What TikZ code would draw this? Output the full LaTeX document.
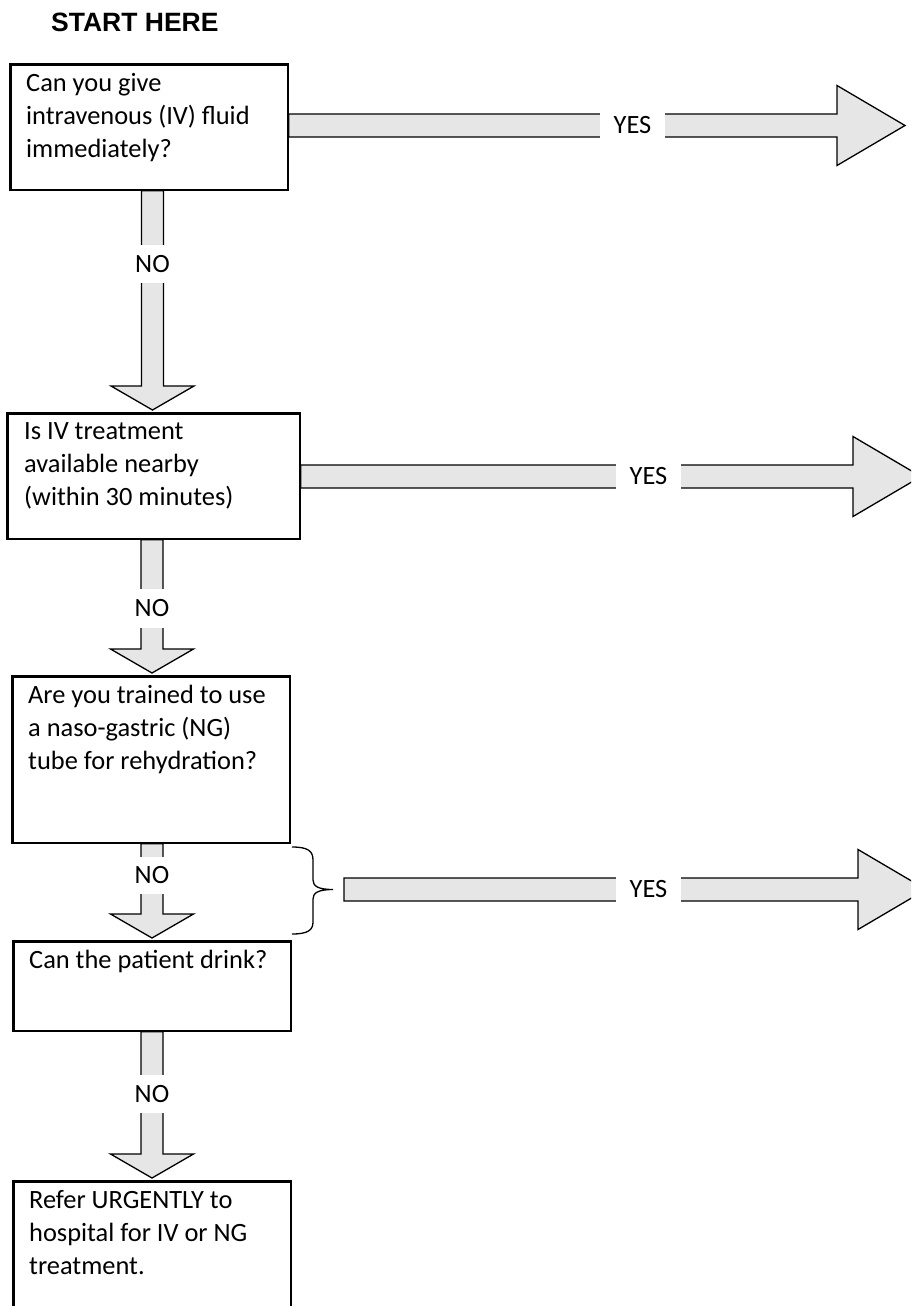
\documentclass[tikz,border=0pt]{standalone}
\usepackage{fontspec}
\setmainfont{Carlito}
\newfontfamily\headfont{Liberation Sans}
\usetikzlibrary{calc}
\definecolor{arrowgray}{RGB}{230,230,230}
\newcommand\bodyfont{\fontsize{26.4}{33}\selectfont}
\begin{document}
\begin{tikzpicture}[x=1pt,y=-1pt,
  box/.style={draw=black, line width=1.6pt, fill=white, anchor=north west, inner sep=0pt},
  arrowbody/.style={draw=black, line width=1.3pt, fill=arrowgray, line join=miter},
  lbl/.style={fill=white, inner sep=0pt, font=\bodyfont},
  txt/.style={anchor=base west, inner sep=0pt, font=\bodyfont},
  bracestyle/.style={draw=black, line width=1.3pt}]
\useasboundingbox (0,0) rectangle (911,1306);
\clip (0,0) rectangle (911,1306);

% title
\node[anchor=base west, inner sep=0pt, font=\headfont\bfseries\fontsize{26.5}{30}\selectfont] (title) at (51,31.7) {START HERE};

% boxes
\node[box, minimum width=277pt, minimum height=125pt] (b1) at (10,64) {};
\node[box, minimum width=292pt, minimum height=125pt] (b2) at (7,413) {};
\node[box, minimum width=277pt, minimum height=166pt] (b3) at (12,676) {};
\node[box, minimum width=277pt, minimum height=89pt] (b4) at (13,941) {};
\node[box, minimum width=277pt, minimum height=170pt] (b5) at (13,1181) {};

% helper coordinates
\coordinate (vxa) at (152.5,0);
\coordinate (vxb) at (152,0);
\coordinate (hy1) at (0,125.5);
\coordinate (hy2) at (0,476.5);
\coordinate (h1t) at (905,125.5);
\coordinate (h2t) at (921,476.5);
\coordinate (h3t) at (926,889.5);
\coordinate (bracetip) at (333,889.5);

% vertical NO arrows
\foreach \src/\dst/\vx/\nm in {b1/b2/vxa/a1, b2/b3/vxb/a2, b3/b4/vxb/a3, b4/b5/vxb/a4}{
  \coordinate (\nm s) at (\src.south -| \vx);
  \coordinate (\nm t) at ([yshift=3pt]\dst.north -| \vx);
  \draw[arrowbody] let \p1=(\nm s), \p2=(\nm t) in
    (\x1-11pt,\y1) -- (\x1+11pt,\y1) -- (\x1+11pt,\y2+24pt) -- (\x1+41.5pt,\y2+24pt)
    -- (\x1,\y2) -- (\x1-41.5pt,\y2+24pt) -- (\x1-11pt,\y2+24pt) -- cycle;
}

% horizontal YES arrows
\coordinate (h1s) at (b1.east |- hy1);
\coordinate (h2s) at (b2.east |- hy2);
\coordinate (h3s) at ([xshift=11pt]bracetip);
\foreach \s/\t in {h1s/h1t, h2s/h2t, h3s/h3t}{
  \draw[arrowbody] let \p1=(\s), \p2=(\t) in
    (\x1,\y1+11.5pt) -- (\x2-68pt,\y1+11.5pt) -- (\x2-68pt,\y1+40pt) -- (\x2,\y1)
    -- (\x2-68pt,\y1-40pt) -- (\x2-68pt,\y1-11.5pt) -- (\x1,\y1-11.5pt) -- cycle;
}

% brace
\coordinate (bracetop) at (292,847);
\coordinate (bracebot) at (292,934);
\draw[bracestyle] (bracetop) .. controls (308,847) and (313,851) .. (313,860) -- (313,880)
  .. controls (313,886) and (318,889.5) .. (bracetip)
  .. controls (318,889.5) and (313,893) .. (313,899) -- (313,922)
  .. controls (313,930) and (308,934) .. (bracebot);

% redraw boxes on top (borders)
\draw[line width=1.6pt] (b1.north west) rectangle (b1.south east);
\draw[line width=1.6pt] (b2.north west) rectangle (b2.south east);
\draw[line width=1.6pt] (b3.north west) rectangle (b3.south east);
\draw[line width=1.6pt] (b4.north west) rectangle (b4.south east);
\draw[line width=1.6pt] (b5.north west) rectangle (b5.south east);

% box texts
\node[txt] (t1) at (26,91.7) {\parbox[t]{260pt}{\raggedright Can you give\\intravenous (IV) fluid\\immediately?}};
\node[txt] (t2) at (24,439) {\parbox[t]{270pt}{\raggedright Is IV treatment\\available nearby\\(within 30 minutes)}};
\node[txt] (t3) at (28,703.5) {\parbox[t]{260pt}{\raggedright Are you trained to use\\a naso-gastric (NG)\\tube for rehydration?}};
\node[txt] (t4) at (29,968) {\parbox[t]{260pt}{\raggedright Can the patient drink?}};
\node[txt] (t5) at (29,1208) {\parbox[t]{260pt}{\raggedright Refer URGENTLY to\\hospital for IV or NG\\treatment.}};

% NO labels
\node[lbl, minimum width=34pt, minimum height=38pt] (no1) at (152.5,264) {NO};
\node[lbl, minimum width=34pt, minimum height=39pt] (no2) at (152,608.5) {NO};
\node[lbl, minimum width=34pt, minimum height=37pt] (no3) at (152,875.5) {NO};
\node[lbl, minimum width=34pt, minimum height=38pt] (no4) at (152,1094) {NO};

% YES labels
\node[lbl, minimum width=65pt, minimum height=30pt] (yes1) at (632.5,125.5) {YES};
\node[lbl, minimum width=65pt, minimum height=30pt] (yes2) at (648.5,476.5) {YES};
\node[lbl, minimum width=65pt, minimum height=30pt] (yes3) at (648.5,889.5) {YES};
\end{tikzpicture}
\end{document}
